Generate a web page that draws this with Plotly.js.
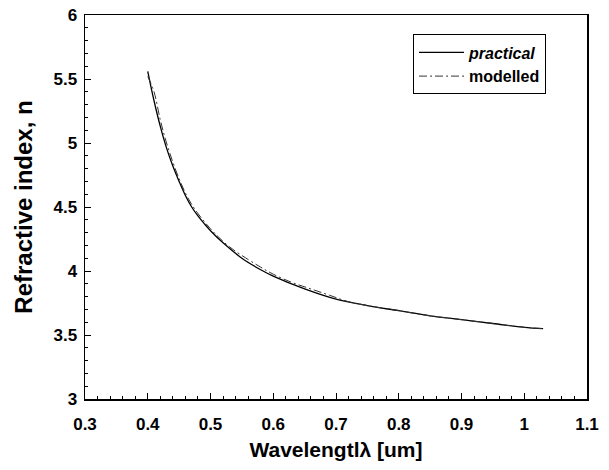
<!DOCTYPE html>
<html>
<head>
<meta charset="utf-8">
<script src="https://cdn.plot.ly/plotly-3.0.1.min.js"></script>
<style>html,body{margin:0;padding:0;background:#fff;}#chart{width:609px;height:470px;}</style>
</head>
<body>
<div id="chart"></div>
<script>
// Data
const practicalWavelength = [0.40, 0.41, 0.42, 0.43, 0.44, 0.45, 0.46, 0.47, 0.48, 0.49, 0.50, 0.52, 0.55, 0.58, 0.60, 0.65, 0.70, 0.75, 0.80, 0.85, 0.90, 0.95, 1.00, 1.03];
const practicalIndex      = [5.56, 5.33, 5.13, 4.96, 4.82, 4.70, 4.59, 4.50, 4.43, 4.37, 4.315, 4.22, 4.10, 4.01, 3.96, 3.86, 3.78, 3.73, 3.69, 3.65, 3.62, 3.59, 3.56, 3.55];
const modelledWavelength  = [0.40, 0.41, 0.42, 0.43, 0.45, 0.47, 0.50, 0.53, 0.56, 0.58, 0.60, 0.63, 0.66, 0.69, 0.72, 0.75, 0.80, 0.85, 0.90, 0.95, 1.00, 1.03];
const modelledIndex       = [5.52, 5.40, 5.18, 5.00, 4.72, 4.52, 4.33, 4.19, 4.09, 4.03, 3.975, 3.91, 3.86, 3.81, 3.76, 3.73, 3.69, 3.65, 3.62, 3.59, 3.56, 3.55];
const seriesNames = ['<i>practical</i>', 'modelled'];
const xTicks = [0.3, 0.4, 0.5, 0.6, 0.7, 0.8, 0.9, 1, 1.1];
const xTickText = ['0.3', '0.4', '0.5', '0.6', '0.7', '0.8', '0.9', '1', '1.1'];
const yTicks = [3, 3.5, 4, 4.5, 5, 5.5, 6];
const yTickText = ['3', '3.5', '4', '4.5', '5', '5.5', '6'];

const fam = 'Liberation Sans, Arial, sans-serif';

const traces = [
  {x: practicalWavelength, y: practicalIndex, type: 'scatter', mode: 'lines', name: seriesNames[0],
   line: {color: '#000', width: 1.3, shape: 'spline', smoothing: 1}},
  {x: modelledWavelength, y: modelledIndex, type: 'scatter', mode: 'lines', name: seriesNames[1],
   line: {color: '#333', width: 1, dash: '8px,3px,2px,3px', shape: 'spline', smoothing: 1}}
];

const layout = {
  width: 609, height: 470,
  margin: {l: 85, r: 22, t: 15, b: 71},
  paper_bgcolor: '#fff', plot_bgcolor: '#fff',
  font: {family: fam, color: '#000'},
  showlegend: true,
  legend: {x: 0.653, y: 0.95, xanchor: 'left', yanchor: 'top',
    bgcolor: '#fff', bordercolor: '#000', borderwidth: 1.2,
    font: {family: fam, size: 16, color: '#000', weight: 'bold'},
    tracegroupgap: 0, itemwidth: 45},
  xaxis: {
    showline: true, mirror: true, linecolor: '#000', linewidth: 1.5,
    ticks: 'inside', ticklen: 6, tickcolor: '#000', tickwidth: 1,
    showgrid: false, zeroline: false,
    tickfont: {family: fam, size: 17, color: '#000', weight: 'bold'},
    range: [0.3, 1.1], tickmode: 'array', tickvals: xTicks, ticktext: xTickText,
    ticklabelstandoff: 9,
    minor: {dtick: 0.02, ticks: 'inside', ticklen: 3, tickcolor: '#000'},
    title: {text: 'Wavelengtlλ [um]', font: {family: fam, size: 21, color: '#000', weight: 'bold'}, standoff: 9}
  },
  yaxis: {
    showline: true, mirror: true, linecolor: '#000', linewidth: 1.5,
    ticks: 'inside', ticklen: 6, tickcolor: '#000', tickwidth: 1,
    showgrid: false, zeroline: false,
    tickfont: {family: fam, size: 17, color: '#000', weight: 'bold'},
    range: [3, 6], tickmode: 'array', tickvals: yTicks, ticktext: yTickText,
    ticklabelstandoff: 3,
    minor: {dtick: 0.1, ticks: 'inside', ticklen: 3, tickcolor: '#000'},
    title: {text: 'Refractive index, n', font: {family: fam, size: 24, color: '#000', weight: 'bold'}, standoff: 14}
  }
};

Plotly.newPlot('chart', traces, layout, {displayModeBar: false, staticPlot: true});
</script>
</body>
</html>
